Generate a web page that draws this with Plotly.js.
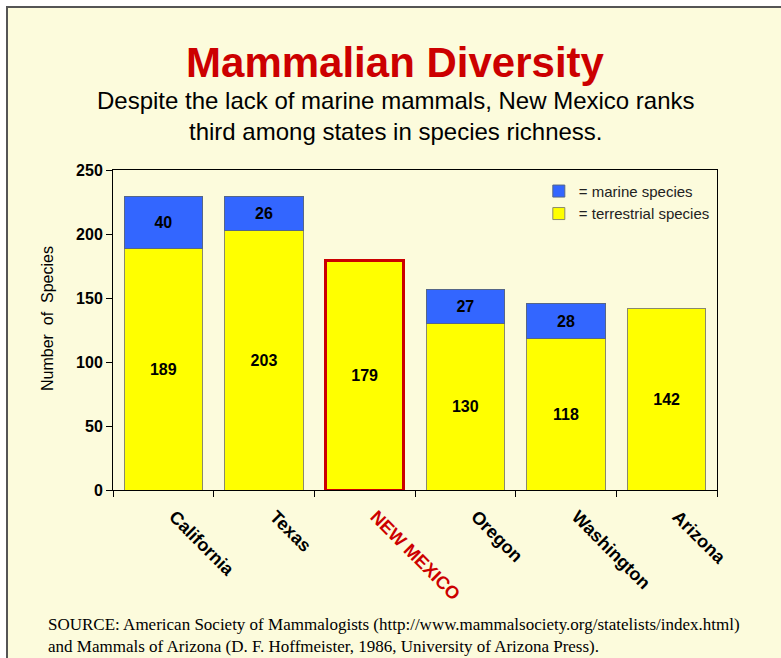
<!DOCTYPE html>
<html><head><meta charset="utf-8">
<script src="https://cdn.plot.ly/plotly-3.0.1.min.js"></script>
<style>
html,body{margin:0;padding:0;background:#ffffff;overflow:hidden;}
#chart{position:absolute;left:6px;top:6px;width:773px;height:650px;border-top:2px solid #555;border-left:2px solid #555;}
</style>
</head><body>
<div id="chart"></div>
<script>
const states = ["California","Texas","NEW MEXICO","Oregon","Washington","Arizona"];
const tickLabels = ["California","Texas","<span style=\"color:#cc0000\">NEW MEXICO</span>","Oregon","Washington","Arizona"];
const terrestrial = [189,203,179,130,118,142];
const marine = [40,26,null,27,28,null];
const yTicks = [0,50,100,150,200,250];

const lineColors = states.map(s => s === "NEW MEXICO" ? "#cc0000" : "#8a8a6a");
const lineWidths = states.map(s => s === "NEW MEXICO" ? 3 : 1);

const traces = [
  {type:"bar", name:"= terrestrial species", x:states, y:terrestrial,
   marker:{color:"#ffff00", line:{color:lineColors, width:lineWidths}},
   text:terrestrial.map(String), textposition:"inside", insidetextanchor:"middle",
   textfont:{family:"Arial", size:16, color:"#000", weight:"bold"}, hoverinfo:"none"},
  {type:"bar", name:"= marine species", x:states, y:marine,
   marker:{color:"#3366ff", line:{color:"#556688", width:1}},
   text:marine.map(v => v==null ? "" : String(v)), textposition:"inside", insidetextanchor:"middle",
   textfont:{family:"Arial", size:16, color:"#000", weight:"bold"}, hoverinfo:"none"}
];

const layout = {
  width:773, height:650,
  paper_bgcolor:"#fcfbdc", plot_bgcolor:"#fcfbdc",
  margin:{l:105, r:64, t:162, b:168},
  barmode:"stack", bargap:0.22,
  showlegend:true,
  legend:{x:0.705, y:0.985, xanchor:"left", yanchor:"top", bgcolor:"rgba(0,0,0,0)",
          font:{family:"Arial", size:15, color:"#222"}, traceorder:"reversed", tracegroupgap:0, itemwidth:30},
  title:{text:"<b>Mammalian Diversity</b>", x:(395-8)/773, xanchor:"center", y:1-54/650, yanchor:"middle",
         font:{family:"Arial", size:42, color:"#cc0000"}},
  xaxis:{type:"category", tickvals:states, ticktext:tickLabels, tickangle:45,
         tickfont:{family:"Arial", size:18, color:"#000", weight:"bold"},
         ticklabelstandoff:8, ticklabelshift:11,
         showline:true, linecolor:"#000", linewidth:1, mirror:true,
         ticks:"outside", tickson:"boundaries", ticklen:6, tickcolor:"#000", showgrid:false},
  yaxis:{range:[0,250], tickvals:yTicks, ticks:"outside", ticklen:6, tickcolor:"#000",
         tickfont:{family:"Arial", size:16, color:"#000", weight:"bold"},
         showline:true, linecolor:"#000", linewidth:1, mirror:true, showgrid:false, zeroline:false},
  annotations:[
    {text:"Number  of  Species", textangle:-90,
     xref:"paper", yref:"paper", x:((47-8)-105)/604, y:1-((319-8)-162)/320, xanchor:"center", yanchor:"middle",
     showarrow:false, font:{family:"Arial", size:16, color:"#000"}},
    {text:"Despite the lack of marine mammals, New Mexico ranks<br>third among states in species richness.",
     xref:"paper", yref:"paper", x:((396-8)-105)/604, y:1+(162-(116-8))/320, xanchor:"center", yanchor:"middle",
     showarrow:false, font:{family:"Arial", size:24, color:"#000"}, align:"center"},
    {text:"SOURCE: American Society of Mammalogists (http://www.mammalsociety.org/statelists/index.html)<br>and Mammals of Arizona (D. F. Hoffmeister, 1986, University of Arizona Press).",
     xref:"paper", yref:"paper", x:((46-8)-105)/604, y:-((635-8)-482)/320, xanchor:"left", yanchor:"middle",
     showarrow:false, font:{family:"Liberation Serif", size:17, color:"#000"}, align:"left"}
  ]
};

Plotly.newPlot("chart", traces, layout, {staticPlot:true});
</script>
</body></html>
